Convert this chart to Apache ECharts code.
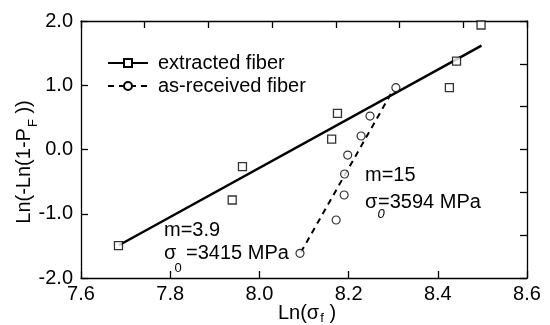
<!DOCTYPE html>
<html><head><meta charset="utf-8">
<script src="https://cdn.jsdelivr.net/npm/echarts@6/dist/echarts.min.js"></script>
<style>html,body{margin:0;padding:0;background:#fff}#c{width:550px;height:325px}</style>
</head><body><div id="c"></div>
<script>
// extracted fiber (squares)
const extractedX = [7.684, 7.939, 7.962, 8.162, 8.175, 8.426, 8.442, 8.497];
const extractedY = [-1.497, -0.786, -0.267, 0.163, 0.563, 0.962, 1.377, 1.938];
// as-received fiber (circles)
const receivedX = [8.091, 8.172, 8.190, 8.191, 8.198, 8.228, 8.248, 8.306];
const receivedY = [-1.616, -1.097, -0.708, -0.381, -0.086, 0.210, 0.521, 0.962];
// Weibull fit lines
const extractedFitX = [7.685, 8.498];
const extractedFitY = [-1.49, 1.616];
const receivedFitX = [8.093, 8.300];
const receivedFitY = [-1.60, 0.93];
const seriesNames = ['extracted fiber', 'as-received fiber'];

const FONT = '"Liberation Sans", Arial, Helvetica, sans-serif';
const pair = (xs, ys) => xs.map((x, i) => [x, ys[i]]);
const black = '#000';
const axisLine = {show: true, onZero: false, lineStyle: {color: black, width: 1.3}};
const tick = {show: true, inside: true, length: 7, lineStyle: {color: black, width: 1.3}};

const chart = echarts.init(document.getElementById('c'), null, {renderer: 'canvas'});
chart.setOption({
  animation: false,
  backgroundColor: '#fff',
  textStyle: {fontFamily: FONT},
  grid: {left: 81, right: 23, top: 21, bottom: 47},
  legend: {
    data: seriesNames, orient: 'vertical', left: 102, top: 48,
    itemWidth: 40, itemHeight: 10, itemGap: 3,
    textStyle: {fontSize: 20, color: black, fontFamily: FONT, padding: [0, 0, 0, 5]},
    selectedMode: false
  },
  xAxis: [
    {type: 'value', min: 7.6, max: 8.6, interval: 0.2, position: 'bottom',
     axisLine: axisLine, axisTick: tick,
     axisLabel: {color: black, fontSize: 20, margin: 6, fontFamily: FONT, formatter: v => v.toFixed(1)},
     splitLine: {show: false}},
    {type: 'value', min: 0, max: 7, interval: 1, position: 'top',
     axisLine: axisLine, axisTick: tick, axisLabel: {show: false}, splitLine: {show: false}}
  ],
  yAxis: [
    {type: 'value', min: -2, max: 2, interval: 1, position: 'left',
     axisLine: axisLine, axisTick: tick,
     axisLabel: {color: black, fontSize: 20, margin: 8, fontFamily: FONT, formatter: v => v.toFixed(1)},
     splitLine: {show: false}},
    {type: 'value', min: 0, max: 6, interval: 1, position: 'right',
     axisLine: axisLine, axisTick: tick, axisLabel: {show: false}, splitLine: {show: false}}
  ],
  series: [
    {name: seriesNames[0], type: 'line', data: pair(extractedFitX, extractedFitY),
     showSymbol: false, symbol: 'rect', symbolSize: 8,
     itemStyle: {color: '#fff', borderColor: black, borderWidth: 1.2},
     lineStyle: {color: black, width: 2.5}, silent: true, z: 2},
    {name: seriesNames[1], type: 'line', data: pair(receivedFitX, receivedFitY),
     showSymbol: false, symbol: 'circle', symbolSize: 8,
     itemStyle: {color: '#fff', borderColor: black, borderWidth: 1.2},
     lineStyle: {color: black, width: 2, type: [6, 5]}, silent: true, z: 2},
    {name: 'extracted fiber data', type: 'scatter', data: pair(extractedX, extractedY),
     symbol: 'rect', symbolSize: 8,
     itemStyle: {color: '#fff', borderColor: black, borderWidth: 1.3}, silent: true, z: 4},
    {name: 'as-received fiber data', type: 'scatter', data: pair(receivedX, receivedY),
     symbol: 'circle', symbolSize: 8,
     itemStyle: {color: '#fff', borderColor: black, borderWidth: 1.2}, silent: true, z: 4}
  ],
  graphic: [
    {type: 'text', x: 24, y: 162, rotation: Math.PI / 2, silent: true,
     style: {text: '{a|Ln(-Ln(1-P}{s|F}{a| ))}', align: 'center', verticalAlign: 'middle', fill: black,
       rich: {a: {fontSize: 20, fontFamily: FONT, fill: black},
              s: {fontSize: 13, fontFamily: FONT, fill: black, padding: [18, 0, 0, 1]}}}},
    {type: 'text', x: 307, y: 313, silent: true,
     style: {text: '{a|Ln(σ}{s|f}{a| )}', align: 'center', verticalAlign: 'middle', fill: black,
       rich: {a: {fontSize: 20, fontFamily: FONT, fill: black},
              s: {fontSize: 13, fontFamily: FONT, fill: black, padding: [10, 0, 0, 1]}}}},
    {type: 'text', x: 164, y: 230, silent: true,
     style: {text: 'm=3.9', fontSize: 20, fontFamily: FONT, fill: black, verticalAlign: 'middle'}},
    {type: 'text', x: 164, y: 253, silent: true,
     style: {text: 'σ', fontSize: 20, fontFamily: FONT, fill: black, verticalAlign: 'middle'}},
    {type: 'text', x: 178, y: 268, silent: true,
     style: {text: '0', fontSize: 13, fontFamily: FONT, fill: black, align: 'center', verticalAlign: 'middle'}},
    {type: 'text', x: 186, y: 253, silent: true,
     style: {text: '=3415 MPa', fontSize: 20, fontFamily: FONT, fill: black, verticalAlign: 'middle'}},
    {type: 'text', x: 365, y: 175, silent: true,
     style: {text: 'm=15', fontSize: 20, fontFamily: FONT, fill: black, verticalAlign: 'middle'}},
    {type: 'text', x: 365, y: 202, silent: true,
     style: {text: 'σ', fontSize: 20, fontFamily: FONT, fill: black, verticalAlign: 'middle'}},
    {type: 'text', x: 381, y: 214, silent: true,
     style: {text: '0', fontSize: 13, fontFamily: FONT, fontStyle: 'italic', fill: black, align: 'center', verticalAlign: 'middle'}},
    {type: 'text', x: 378, y: 202, silent: true,
     style: {text: '=3594 MPa', fontSize: 20, fontFamily: FONT, fill: black, verticalAlign: 'middle'}}
  ]
});
</script></body></html>
